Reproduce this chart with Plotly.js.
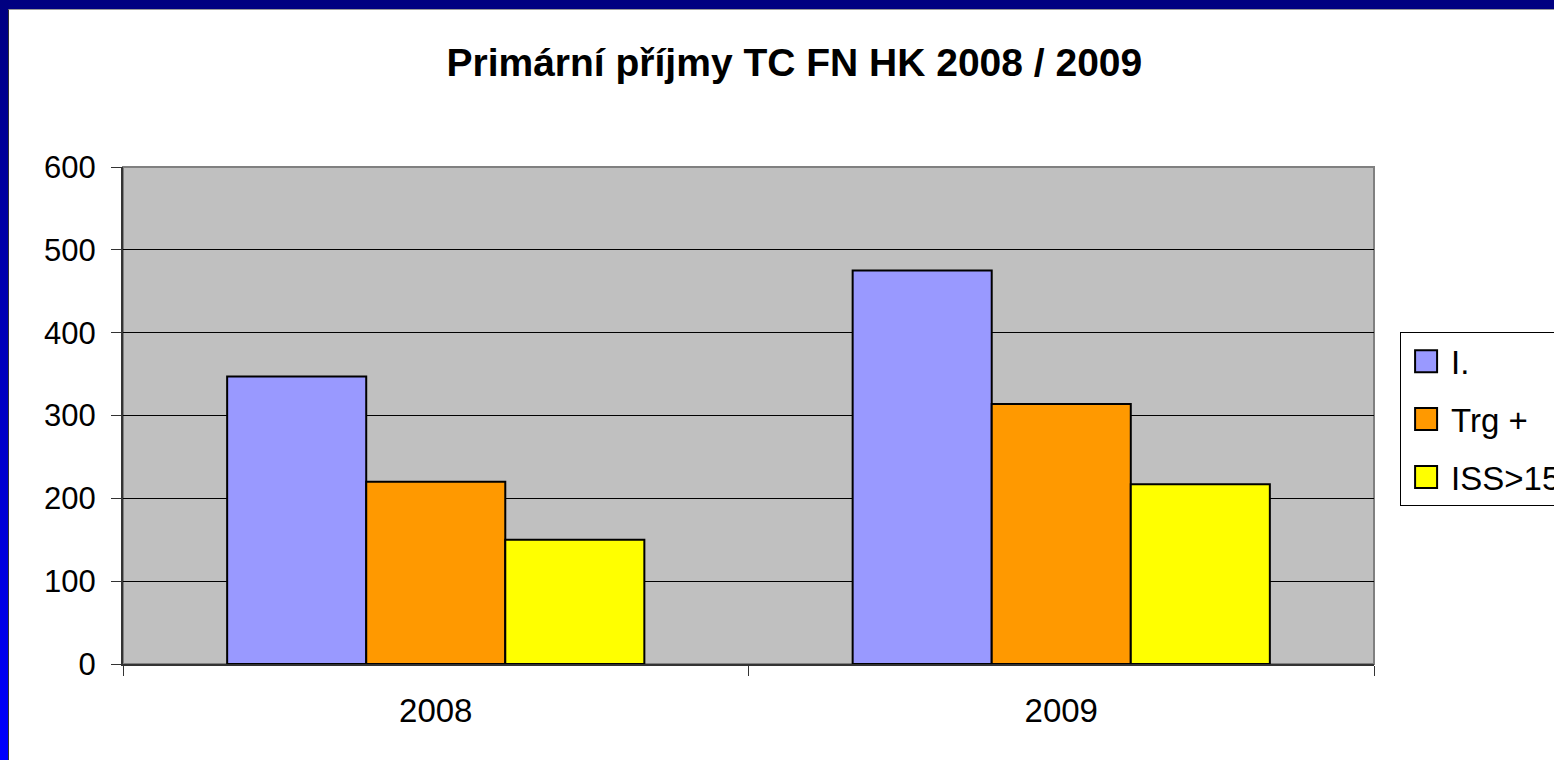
<!DOCTYPE html>
<html>
<head>
<meta charset="utf-8">
<script src="https://cdn.plot.ly/plotly-3.0.1.min.js"></script>
<style>
  body { margin: 0; overflow: hidden; }
  #frame {
    position: absolute; left: 0; top: 0; width: 1554px; height: 760px;
    background: linear-gradient(to bottom, #000080, #0000ff);
  }
  #chart {
    position: absolute; left: 8px; top: 9px; width: 1546px; height: 751px;
    background: #fff; border-top: 1px solid #999; border-left: 1px solid #333;
  }
</style>
</head>
<body>
<div id="frame"><div id="chart"></div></div>
<script>
// chart data
var years = ['2008', '2009'];
var seriesNames = ['I.', 'Trg +', 'ISS>15'];
var valI = [347, 475];
var valTrg = [220, 314];
var valISS = [150, 217];
var seriesColors = ['#9999ff', '#ff9900', '#ffff00'];

var fnt = 'Arial, "Liberation Sans", sans-serif';

var vals = [valI, valTrg, valISS];
var dataPlot = vals.map(function (v, i) {
  return {
    x: years, y: v, type: 'bar', name: seriesNames[i],
    legendgroup: 'g' + i,
    marker: {color: seriesColors[i], line: {color: '#000', width: 2}}
  };
});

var layout = {
  width: 1546, height: 751,
  margin: {l: 114, r: 181, t: 157, b: 97},
  paper_bgcolor: '#fff',
  plot_bgcolor: '#c0c0c0',
  barmode: 'group',
  bargap: 0.333,
  bargroupgap: 0,
  showlegend: true,
  title: {
    text: '<b>Primární příjmy TC FN HK 2008 / 2009</b>',
    font: {family: fnt, size: 39, color: '#000'},
    x: 0.508, xref: 'container', y: 0.93, yanchor: 'middle'
  },
  xaxis: {
    type: 'category',
    tickson: 'boundaries',
    ticks: 'outside', ticklen: 10, tickcolor: '#333',
    showline: true, linecolor: '#333', linewidth: 2,
    showgrid: false,
    ticklabelstandoff: 16,
    tickfont: {family: fnt, size: 33, color: '#000'}
  },
  yaxis: {
    range: [0, 600], dtick: 100,
    ticks: 'outside', ticklen: 10, tickcolor: '#333',
    showline: true, linecolor: '#333', linewidth: 2,
    gridcolor: '#000', gridwidth: 1,
    zeroline: false,
    ticklabelstandoff: 9,
    tickfont: {family: fnt, size: 31, color: '#000'}
  },
  legend: {
    xref: 'container', yref: 'container',
    x: 0.8998, xanchor: 'left', y: 0.571, yanchor: 'top',
    bgcolor: '#fff', bordercolor: '#000', borderwidth: 1,
    tracegroupgap: 12, itemwidth: 40,
    font: {family: fnt, size: 33, color: '#000'}
  },
  shapes: [{
    type: 'rect', xref: 'paper', yref: 'paper', x0: 0, x1: 1, y0: 0, y1: 1,
    line: {color: '#808080', width: 2}, layer: 'below'
  }]
};

Plotly.newPlot('chart', dataPlot, layout, {displayModeBar: false, staticPlot: true})
  .then(function (gd) {
    // bigger legend swatches, like the original
    gd.querySelectorAll('.legendpoints path').forEach(function (p) {
      p.setAttribute('d', 'M11,11H-11V-11H11Z');
      p.style.strokeWidth = '2px';
    });
  });
</script>
</body>
</html>
